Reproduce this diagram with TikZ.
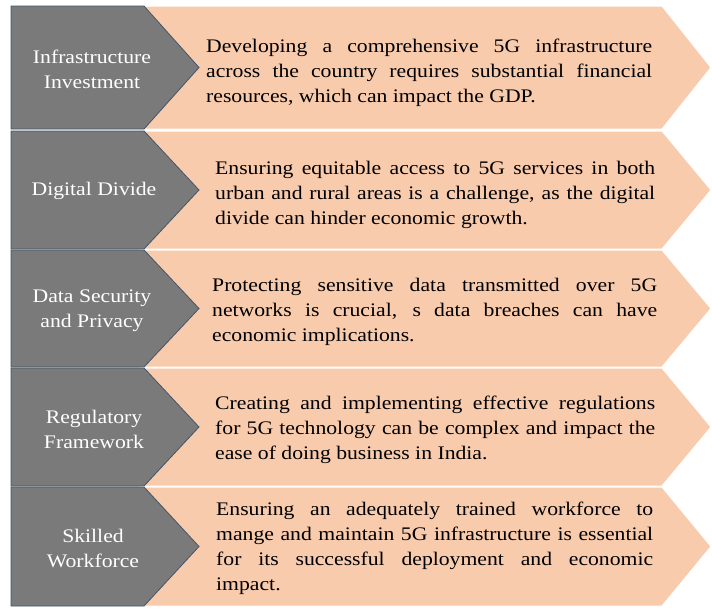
\documentclass[tikz,border=0pt]{standalone}
\usepackage{fontspec}
\setmainfont{Liberation Serif}[FakeStretch=1.13]
\usetikzlibrary{positioning}

\definecolor{slate}{HTML}{7A7A7A}
\definecolor{slateline}{HTML}{44546A}
\definecolor{peach}{HTML}{F8CBAD}

\begin{document}
\begin{tikzpicture}[x=1pt, y=-1pt,
    band/.style={fill=peach, draw=white, line width=1pt},
    tag/.style={fill=slate, draw=slateline, line width=0.8pt},
    tagtext/.style={text=white, align=center, inner sep=0pt, font=\fontsize{19.2}{25}\selectfont},
    desc/.style={anchor=west, align=justify, inner sep=0pt, font=\fontsize{19.2}{25}\selectfont}
]
\useasboundingbox (0,0) rectangle (712,608);

% Rows: peach band behind, grey chevron in front
\foreach \t/\b in {6/129, 131/249, 250/367, 368/486, 487/606} {
    \pgfmathsetmacro\m{(\t+\b)/2}
    \fill[band] (140,\t) -- (662,\t) -- (711,\m) -- (662,\b) -- (140,\b) -- cycle;
    \draw[tag] (11,\t) -- (144,\t) -- (199,\m) -- (144,\b) -- (11,\b) -- cycle;
}

% Challenge names
\node[tagtext] (infra) at (92,69) {Infrastructure\\Investment};
\node[tagtext] (divide) at (94,191) {Digital Divide};
\node[tagtext] (secure) at (92,311) {Data Security\\and Privacy};
\node[tagtext] (regul) at (94,429) {Regulatory\\Framework};
\node[tagtext] (skill) at (93,548) {Skilled\\Workforce};

% Descriptions
\node[desc, text width=446pt] (dinfra) at (206,73) {Developing a comprehensive 5G infrastructure\linebreak
    across the country requires substantial financial\linebreak
    resources, which can impact the GDP.};
\node[desc, text width=440pt] (ddivide) at (215,195) {Ensuring equitable access to 5G services in both\linebreak
    urban and rural areas is a challenge, as the digital\linebreak
    divide can hinder economic growth.};
\node[desc, text width=445pt] (dsecure) at (212,312) {Protecting sensitive data transmitted over 5G\linebreak
    networks is crucial, s data breaches can have\linebreak
    economic implications.};
\node[desc, text width=440pt] (dregul) at (215,430) {Creating and implementing effective regulations\linebreak
    for 5G technology can be complex and impact the\linebreak
    ease of doing business in India.};
\node[desc, text width=437pt] (dskill) at (216,548) {Ensuring an adequately trained workforce to\linebreak
    mange and maintain 5G infrastructure is essential\linebreak
    for its successful deployment and economic\linebreak
    impact.};
\end{tikzpicture}
\end{document}
